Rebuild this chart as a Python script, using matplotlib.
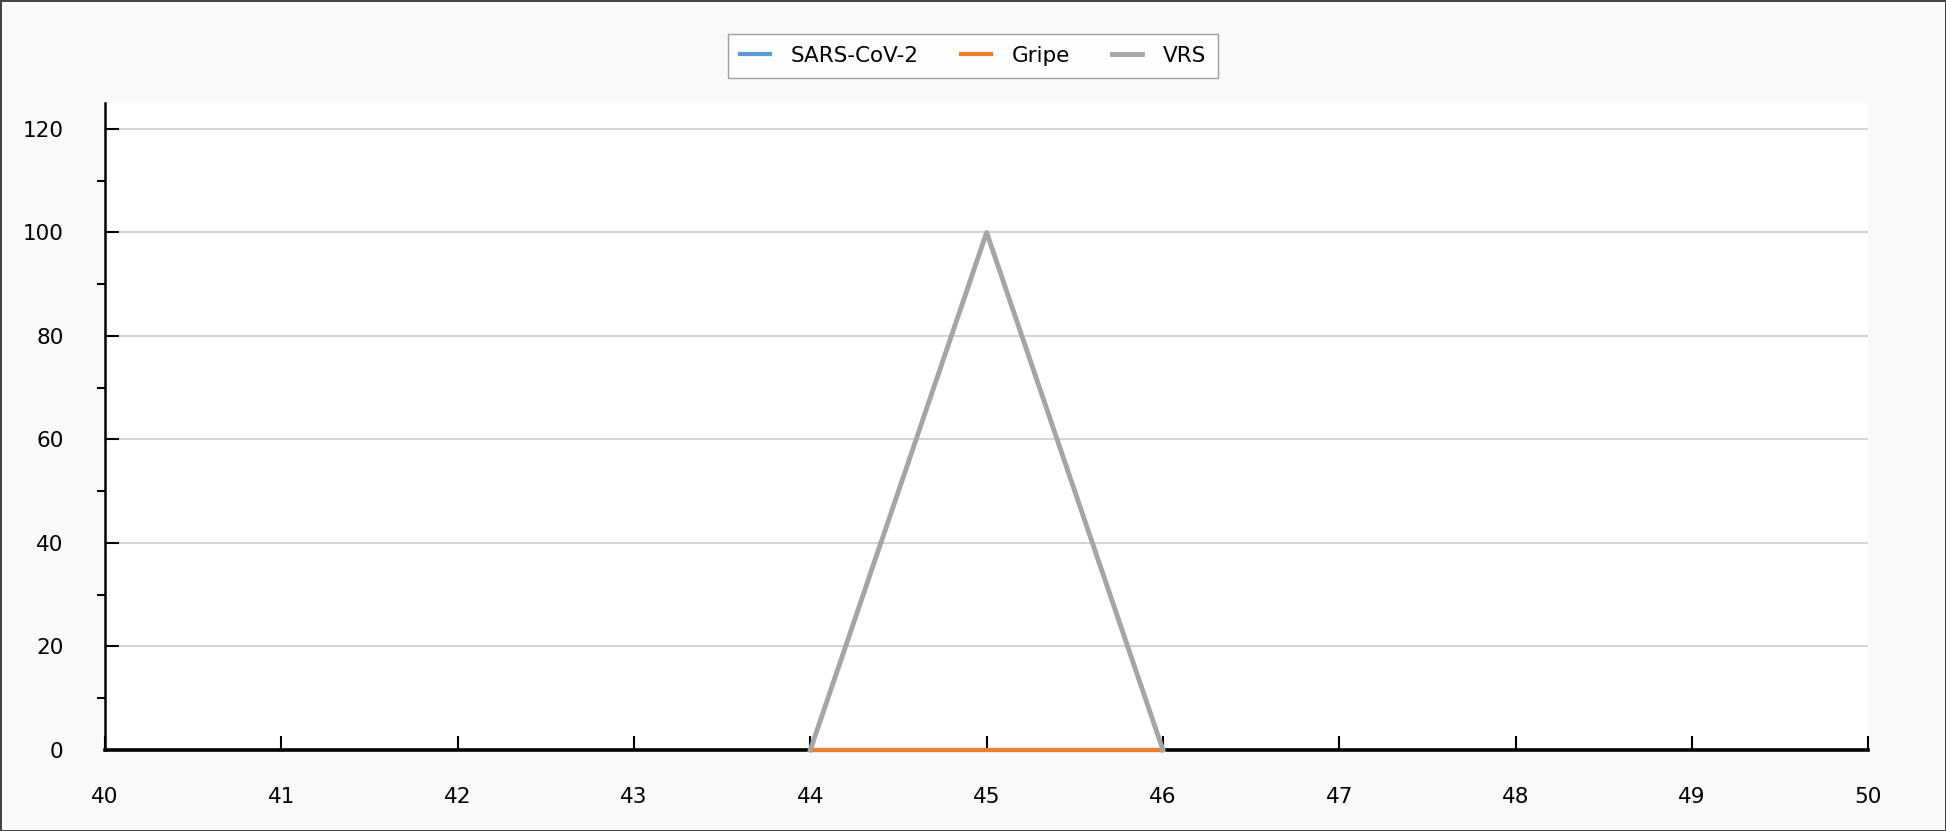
import matplotlib
matplotlib.use("Agg")
import matplotlib.pyplot as plt
from matplotlib.ticker import MultipleLocator

# weeks and detections per virus
semanas = [44, 45, 46]
sars_cov_2 = [0, 0, 0]
gripe = [0, 0, 0]
vrs = [0, 100, 0]

x_ticks = list(range(40, 51))
y_ticks = [0, 20, 40, 60, 80, 100, 120]

fig = plt.figure(figsize=(19.46, 8.31), dpi=100, facecolor="#f9f9f9",
                 edgecolor="#444444", linewidth=2)
ax = fig.add_axes([0.054, 0.0975, 0.906, 0.7785])
ax.set_facecolor("white")

ax.plot(semanas, sars_cov_2, color="#5b9bd5", lw=3, label="SARS-CoV-2", clip_on=False, zorder=3)
ax.plot(semanas, gripe, color="#ed7d31", lw=3, label="Gripe", clip_on=False, zorder=3)
ax.plot(semanas, vrs, color="#a5a5a5", lw=3.5, label="VRS", clip_on=False, zorder=3)

ax.set_xlim(40, 50)
ax.set_ylim(0, 125)
ax.set_xticks(x_ticks)
ax.set_yticks(y_ticks)
ax.yaxis.set_minor_locator(MultipleLocator(10))
ax.grid(axis="y", color="#d0d0d0", lw=1.3)
ax.set_axisbelow(True)

for s in ["top", "right"]:
    ax.spines[s].set_visible(False)
ax.spines["left"].set_linewidth(1.8)
ax.spines["bottom"].set_linewidth(2.6)
ax.spines["bottom"].set_zorder(1)

ax.tick_params(axis="both", direction="in", labelsize=15.5, colors="black")
ax.tick_params(axis="y", which="major", length=10, width=1.5, pad=30)
ax.tick_params(axis="y", which="minor", length=6, width=1.5)
ax.tick_params(axis="x", which="major", length=10, width=1.5, pad=27)

fig.legend(loc="upper center", bbox_to_anchor=(0.5, 0.972), ncol=3,
           fontsize=15.5, frameon=True, fancybox=False, edgecolor="#888888",
           handlelength=1.4, handletextpad=0.95, columnspacing=1.95,
           borderpad=0.55)

fig.savefig("out.png", dpi=100, facecolor=fig.get_facecolor(),
            edgecolor=fig.get_edgecolor())
